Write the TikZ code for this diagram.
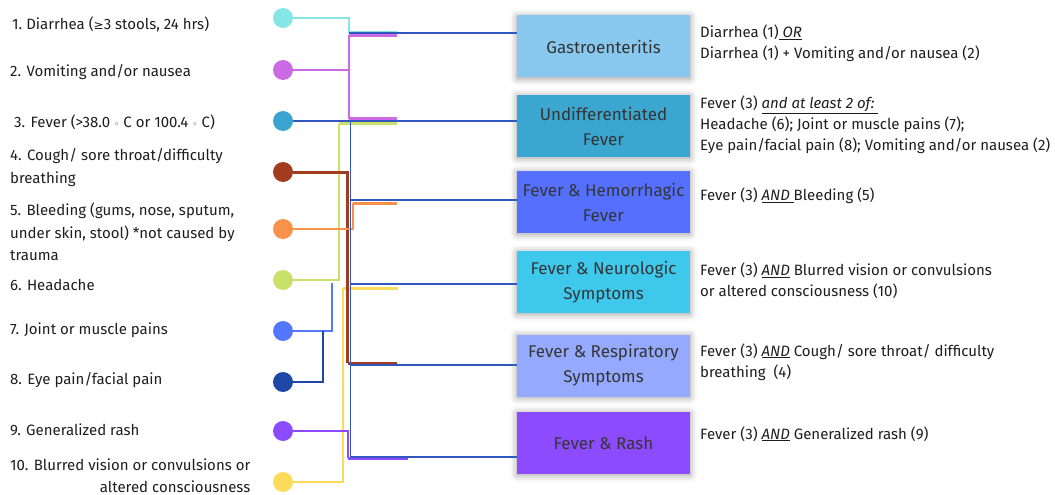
\documentclass[tikz,border=0pt]{standalone}
\usepackage{fontspec}
\setmainfont{Fira Sans}
\newfontfamily\dvs{DejaVu Sans}
\usetikzlibrary{shadows.blur}
\definecolor{trunkc}{HTML}{3056C0}
\definecolor{cA}{HTML}{86E6E6}
\definecolor{cB}{HTML}{CC6AE6}
\definecolor{cC}{HTML}{3AA3CF}
\definecolor{cD}{HTML}{A23C1F}
\definecolor{cE}{HTML}{F8914A}
\definecolor{cF}{HTML}{C9E06A}
\definecolor{cG}{HTML}{5577FF}
\definecolor{cH}{HTML}{1F47A5}
\definecolor{cI}{HTML}{8C4BFF}
\definecolor{cJ}{HTML}{FBDC5A}
\definecolor{bA}{HTML}{88C8EE}
\definecolor{bB}{HTML}{3BA6D0}
\definecolor{bC}{HTML}{5570FF}
\definecolor{bD}{HTML}{3EC8EC}
\definecolor{bE}{HTML}{95A9FF}
\definecolor{bF}{HTML}{8C4BFF}
\definecolor{txt}{HTML}{1E1E1E}
\newcommand\myul[1]{\underline{\textit{#1}}}
\begin{document}
\begin{tikzpicture}[x=1pt,y=-1pt,
  dot/.style={circle, minimum size=20pt, inner sep=0pt},
  lbl/.style={anchor=west, align=left, inner sep=0pt, text=txt, font=\fontsize{15}{22.5}\selectfont},
  desc/.style={anchor=west, align=left, inner sep=0pt, text=txt, font=\fontsize{15}{21}\selectfont},
  box/.style={minimum width=173pt, minimum height=62pt, inner sep=0pt, align=center, text=txt!90,
     font=\fontsize{17}{25}\selectfont,
     blur shadow={shadow xshift=0pt, shadow yshift=-1pt, shadow blur radius=7pt, shadow opacity=40}},
  thin/.style={line width=1.6pt},
  stub/.style={line width=3pt},
  trunk/.style={draw=trunkc, line width=1.8pt}]
\useasboundingbox (0,0) rectangle (1055,495);

% symptom dots
\node[dot, fill=cA] (s1) at (283,18) {};
\node[dot, fill=cB] (s2) at (283,70) {};
\node[dot, fill=cC] (s3) at (283,121) {};
\node[dot, fill=cD] (s4) at (283,172) {};
\node[dot, fill=cE] (s5) at (283,229) {};
\node[dot, fill=cF] (s6) at (283,280) {};
\node[dot, fill=cG] (s7) at (283,331) {};
\node[dot, fill=cH] (s8) at (283,382) {};
\node[dot, fill=cI] (s9) at (283,431) {};
\node[dot, fill=cJ] (s10) at (283,482) {};

% symptom labels
\node[lbl] (l1) at (12,24) {1.\ Diarrhea ({\dvs\fontsize{12}{12}\selectfont ≥}3 stools, 24 hrs)};
\node[lbl] (l2) at (10,72) {2. Vomiting and/or nausea};
\node[lbl] (l3) at (14,122) {3. Fever (>38.0 {\dvs\fontsize{9}{10}\selectfont ◦} C or 100.4 {\dvs\fontsize{9}{10}\selectfont ◦} C)};
\node[lbl] (l4) at (10,167.5) {4. Cough/ sore throat/difficulty\\breathing};
\node[lbl] (l5) at (10,232) {5. Bleeding (gums, nose, sputum,\\under skin, stool) *not caused by\\trauma};
\node[lbl] (l6) at (10,285) {6. Headache};
\node[lbl] (l7) at (10,330) {7. Joint or muscle pains};
\node[lbl] (l8) at (10,380) {8. Eye pain/facial pain};
\node[lbl] (l9) at (10,430) {9. Generalized rash};
\node[lbl, align=right] (l10) at (10,475.5) {10. Blurred vision or convulsions or\\altered consciousness};

% syndrome boxes
\node[box, fill=bA] (b1) at (603.5,46.5) {Gastroenteritis};
\node[box, fill=bB] (b2) at (603.5,126) {Undifferentiated\\Fever};
\node[box, fill=bC] (b3) at (603.5,202) {Fever \& Hemorrhagic\\Fever};
\node[box, fill=bD] (b4) at (603.5,282) {Fever \& Neurologic\\Symptoms};
\node[box, fill=bE] (b5) at (603.5,365.5) {Fever \& Respiratory\\Symptoms};
\node[box, fill=bF] (b6) at (603.5,443) {Fever \& Rash};

% definitions
\node[desc] (d1) at (700,43) {Diarrhea (1)\myul{\ OR}\\Diarrhea (1) + Vomiting and/or nausea (2)};
\node[desc] (d2) at (700,125) {Fever (3) \myul{and at least 2 of:\ }\\Headache (6); Joint or muscle pains (7);\\Eye pain/facial pain (8); Vomiting and/or nausea (2)};
\node[desc] (d3) at (700,196) {Fever (3) \myul{AND\ }Bleeding (5)};
\node[desc] (d4) at (700,281) {Fever (3) \myul{AND} Blurred vision or convulsions\\or altered consciousness (10)};
\node[desc] (d5) at (700,362) {Fever (3) \myul{AND} Cough/ sore throat/ difficulty\\breathing\ \ (4)};
\node[desc] (d6) at (700,434) {Fever (3) \myul{AND} Generalized rash (9)};

% junction coordinates
\coordinate (jA) at (349,33);   \coordinate (jAe) at (397,33);
\coordinate (jB1) at (349,35.5); \coordinate (jB1e) at (397,35.5);
\coordinate (jB2) at (349,118.5); \coordinate (jB2e) at (397,118.5);
\coordinate (jF) at (339,123.5); \coordinate (jFe) at (397,123.5);
\coordinate (jT0) at (350.5,121); \coordinate (jT1) at (350.5,200);
\coordinate (jT2) at (350.5,284); \coordinate (jT3) at (350.5,365);
\coordinate (jT4) at (350.5,457);
\coordinate (jE) at (353,203); \coordinate (jEe) at (397,203);
\coordinate (jD) at (347.5,363); \coordinate (jDe) at (397,363);
\coordinate (jJ) at (343,288); \coordinate (jJe) at (398,288);
\coordinate (jI) at (348,458); \coordinate (jIe) at (408,458);
\coordinate (jG) at (332,283);
\coordinate (jH) at (323,331);

% symptom connectors
\draw[thin, draw=cA] (s1) -| (jA);
\draw[stub, draw=cA] (jA) -- (jAe);
\draw[thin, draw=cB] (s2) -| (jB1);
\draw[thin, draw=cB] (s2) -| (jB2);
\draw[stub, draw=cB] (jB1) -- (jB1e);
\draw[stub, draw=cB] (jB2) -- (jB2e);
\draw[thin, draw=cF] (s6) -| (jF);
\draw[stub, draw=cF] (jF) -- (jFe);
\draw[thin, draw=cG] (s7) -| (jG);
\draw[thin, draw=cH] (s8) -| (jH);
\draw[thin, draw=cJ] (s10) -| (jJ);
\draw[stub, draw=cJ] (jJ) -- (jJe);
\draw[stub, draw=cD] (s4) -| (jD);
\draw[stub, draw=cD] (jD) -- (jDe);
\draw[thin, draw=cE] (s5) -| (jE);
\draw[stub, draw=cE] (jE) -- (jEe);
\draw[thin, draw=cI] (s9) -| (jI);
\draw[stub, draw=cI] (jI) -- (jIe);

% syndrome connectors
\draw[trunk] (jA) -- (jA -| b1.west);
\draw[trunk] (s3) -- (s3 -| b2.west);
\draw[trunk] (jT0) -- (jT4);
\draw[trunk] (jT1) -- (jT1 -| b3.west);
\draw[trunk] (jT2) -- (jT2 -| b4.west);
\draw[trunk] (jT3) -- (jT3 -| b5.west);
\draw[trunk] (jT4) -- (jT4 -| b6.west);
\end{tikzpicture}
\end{document}
